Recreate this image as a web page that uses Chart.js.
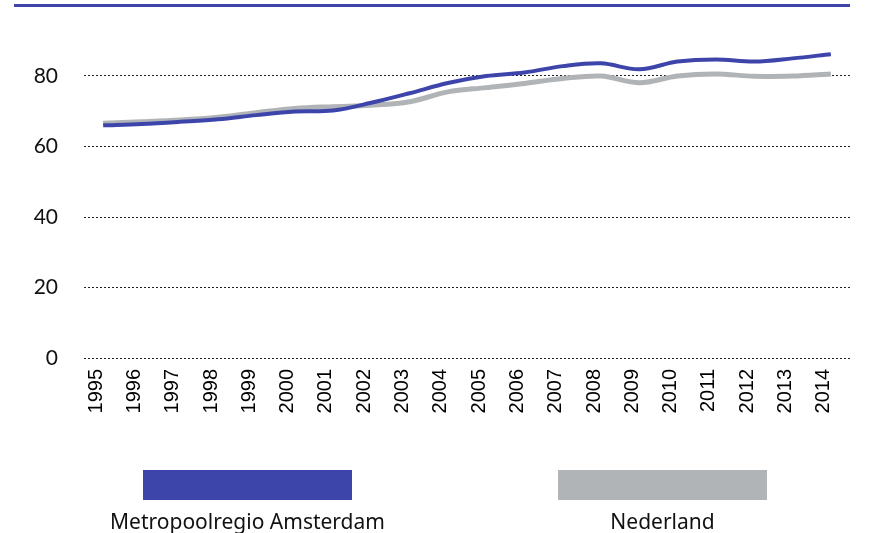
<!DOCTYPE html>
<html>
<head>
<meta charset="utf-8">
<script src="https://cdn.jsdelivr.net/npm/chart.js@4.4.1/dist/chart.umd.min.js"></script>
<style>
  html, body { margin: 0; padding: 0; background: #fff; }
  #wrap { width: 876px; height: 533px; }
</style>
</head>
<body>
<div id="wrap"><canvas id="chart"></canvas></div>
<script>
const years = ['1995', '1996', '1997', '1998', '1999', '2000', '2001', '2002', '2003', '2004',
  '2005', '2006', '2007', '2008', '2009', '2010', '2011', '2012', '2013', '2014'];
const amsterdam = [66.0, 66.4, 67.0, 67.7, 68.9, 69.9, 70.2, 72.4, 75.1, 78.0,
  80.0, 81.0, 82.8, 83.6, 81.9, 84.1, 84.7, 84.1, 85.0, 86.2];
const nederland = [66.6, 67.0, 67.5, 68.3, 69.6, 70.8, 71.3, 71.7, 72.7, 75.5,
  76.7, 77.9, 79.3, 80.0, 78.1, 80.0, 80.6, 79.9, 80.0, 80.6];
const seriesNames = ['Metropoolregio Amsterdam', 'Nederland'];
const shownTicks = [0, 20, 40, 60, 80];

const COLOR_BLUE = '#3d45ab';
const COLOR_GREY = '#b1b4b7';

// blue rule along the top of the plot
const topRule = {
  id: 'topRule',
  afterDraw(chart) {
    const { ctx, chartArea } = chart;
    ctx.save();
    ctx.fillStyle = COLOR_BLUE;
    ctx.fillRect(14, chartArea.top - 1.5, chartArea.right - 14, 3);
    ctx.restore();
  },
};

// legend: wide swatch with the name centred underneath
const boxLegend = {
  id: 'boxLegend',
  afterDraw(chart) {
    const { ctx } = chart;
    const centres = [247.5, 662.5];
    ctx.save();
    ctx.font = '21px "Noto Sans"';
    ctx.textAlign = 'center';
    ctx.textBaseline = 'alphabetic';
    chart.data.datasets.forEach((ds, i) => {
      const cx = centres[i];
      ctx.fillStyle = ds.borderColor;
      ctx.fillRect(cx - 104.5, 470, 209, 30);
      ctx.fillStyle = '#111';
      ctx.fillText(ds.label, cx, 529);
    });
    ctx.restore();
  },
};

const data = {
  labels: years,
  datasets: [
    {
      label: seriesNames[0],
      data: amsterdam,
      borderColor: COLOR_BLUE,
      backgroundColor: COLOR_BLUE,
      borderWidth: 4,
    },
    {
      label: seriesNames[1],
      data: nederland,
      borderColor: COLOR_GREY,
      backgroundColor: COLOR_GREY,
      borderWidth: 5,
    },
  ],
};

new Chart(document.getElementById('chart'), {
  type: 'line',
  data,
  options: {
    responsive: true,
    maintainAspectRatio: false,
    animation: false,
    layout: { autoPadding: false, padding: { top: 5.5, right: 26, left: 0, bottom: 0 } },
    elements: {
      point: { radius: 0 },
      line: { tension: 0.35, borderCapStyle: 'butt' },
    },
    plugins: {
      legend: { display: false },
      tooltip: { enabled: false },
    },
    scales: {
      x: {
        offset: true,
        grid: { display: false },
        border: { display: false },
        ticks: {
          color: '#000',
          font: { family: 'Liberation Sans, Arial, sans-serif', size: 20 },
          minRotation: 90,
          maxRotation: 90,
          padding: 3,
          labelOffset: -7,
          autoSkip: false,
        },
        afterFit(scale) {
          scale.height = 175;
          scale.paddingLeft = 0;
          scale.paddingRight = 0;
        },
      },
      y: {
        min: 0,
        max: 100,
        border: { display: false, dash: [2, 2] },
        grid: {
          drawTicks: false,
          color: (c) => (c.tick && c.tick.value === 100 ? 'rgba(0,0,0,0)' : '#222'),
          lineWidth: 1,
        },
        ticks: {
          stepSize: 20,
          color: '#111',
          padding: 26,
          font: { family: 'Lato', size: 21 },
          callback: (v) => (shownTicks.includes(v) ? v : ''),
        },
        afterFit(scale) {
          scale.width = 84;
          scale.paddingTop = 0;
          scale.paddingBottom = 0;
        },
      },
    },
  },
  plugins: [topRule, boxLegend],
});
</script>
</body>
</html>
